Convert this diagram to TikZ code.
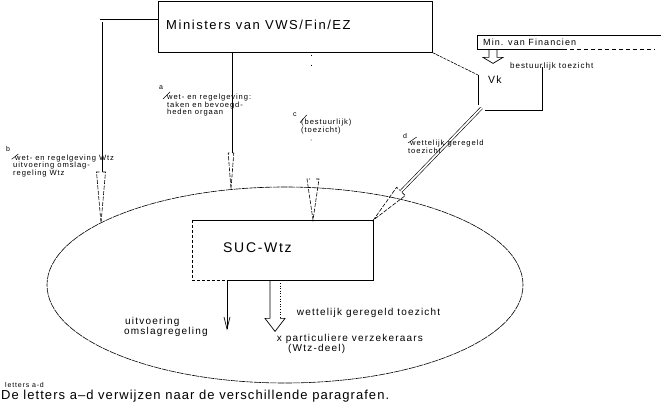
\documentclass[tikz,border=0pt]{standalone}
\usepackage{fontspec}
\setmainfont{Liberation Sans}
\newfontfamily\lsf[LetterSpace=12]{Liberation Sans}
\newfontfamily\capf[LetterSpace=8]{Liberation Sans}
\usetikzlibrary{shapes.geometric,calc,arrows.meta}
\tikzset{
  ln/.style={line width=0.7pt},
  finedash/.style={line width=0.6pt, dash pattern=on 3pt off 1pt},
  dotln/.style={line width=0.7pt, dash pattern=on 1pt off 9pt},
  dbl/.style={draw, line width=0.6pt, double=white, double distance=1.8pt},
  headst/.style={draw, line width=0.6pt, dash pattern=on 4pt off 1.5pt},
  txt/.style={inner sep=0pt, anchor=base west, font=\lsf\fontsize{#1}{#1}\selectfont},
  txt/.default=10,
  boxnode/.style={inner sep=0pt, anchor=north west, rectangle},
  ellst/.style={ellipse, draw, line width=0.6pt, dash pattern=on 7pt off 0.8pt, inner sep=0pt},
  slashln/.style={line width=0.5pt}
}
\newcommand\hhead[4]{%
  \draw[headst] ($(#1)!#4!90:(#2)$) -- ($(#1)!#3!90:(#2)$) -- (#2) -- ($(#1)!#3!-90:(#2)$) -- ($(#1)!#4!-90:(#2)$);}
\begin{document}
\begin{tikzpicture}[x=1pt,y=-1pt]
\clip (0,0) rectangle (661,411);
% ellipse
\node[ellst, minimum width=476pt, minimum height=196pt] (ell) at (285,285) {};
% Ministers box
\node[boxnode, draw, ln, minimum width=274pt, minimum height=51pt] (min) at (158,1) {};
\node[txt=13] (mint) at (166,30) {Ministers van VWS/Fin/EZ};
% Min. van Financien
\node[boxnode, minimum width=190pt, minimum height=14pt] (fin) at (477,35) {};
\draw[ln] (fin.north east) -- (fin.north west) -- (fin.south west) -- ($(fin.south west)+(86,0)$);
\draw[line width=0.6pt, dash pattern=on 4pt off 3pt] ($(fin.south west)+(86,0)$) -- ($(fin.south west)+(178,0)$);
\node[txt=9] (fint) at (483,45.7) {Min. van Financien};
% Vk
\node[txt=10.5] (vk) at (488,83.3) {Vk};
\coordinate (vkl) at (478,75);
\coordinate (vkc) at (481.5,108);
\draw[finedash] (min.south east) -- (vkl);
\draw[ln] (vkl) -- (478,105.5);
\draw[ln] (485,110) -- (542,110) -- (542,67);
% bestuurlijk toezicht arrow
\coordinate (fa) at ($(fin.south west)+(12,0)$);
\draw[ln] (fa) -- ++(0,8) -- ++(-6,0) -- ++(10,6) -- ++(10,-6) -- ++(-6,0) -- ++(0,-8);
\node[txt=8] (bt) at (510,69) {bestuurlijk toezicht};
% SUC-Wtz box
\node[boxnode, minimum width=181pt, minimum height=60pt] (suc) at (192,220) {};
\coordinate (sb) at ($(suc.south west)+(35,0)$);
\draw[ln] (sb) -- (suc.south east) -- (suc.north east) -- (suc.north west);
\draw[line width=0.6pt, dash pattern=on 3pt off 2pt] (suc.north west) -- (suc.south west) -- (sb);
\node[txt=14] (suct) at (223,252.3) {SUC-Wtz};
% arrow b
\coordinate (bs) at ($(min.north west)+(0,20)$);
\coordinate (bc) at (101,21);
\coordinate (bh) at (101,172);
\coordinate (btip) at (101,223);
\draw[dbl] (bs) -- (bc) -- (bh);
\hhead{bh}{btip}{4.5pt}{1.6pt}
% arrow a
\coordinate (as) at ($(min.south west)+(73,0)$);
\coordinate (ah) at (231,153);
\coordinate (atip) at (231,189);
\draw[dbl] (as) -- (ah);
\hhead{ah}{atip}{2.8pt}{1.6pt}
% arrow c
\coordinate (cs) at ($(min.south west)+(153,2)$);
\coordinate (ch) at (313,179);
\coordinate (ctip) at ($(suc.north west)+(121,0)$);
\draw[dotln] (cs) -- ++(0,20);
\fill (311,140) circle (0.5pt);
\hhead{ch}{ctip}{6pt}{3pt}
% arrow d
\coordinate (dh) at ($(vkc)!0.745!(suc.north east)$);
\draw[dbl] (vkc) -- (dh);
\hhead{dh}{suc.north east}{6pt}{1.6pt}
% arrows below SUC
\coordinate (ut) at ($(sb)+(0,50)$);
\draw[ln, -{Straight Barb[length=12pt,width=6pt]}] (sb) -- (ut);
\coordinate (hl) at ($(suc.south west)+(78,0)$);
\draw[ln] (hl) -- ++(0,38) -- ++(-5,0) -- ++(10,13) -- ++(10,-13) -- ++(-5,0);
\draw[line width=0.6pt, dotted] ($(hl)+(10,0)$) -- ++(0,38);
% labels a
\node[txt=7] (la) at (159,90) {a};
\draw[slashln] (163,99) -- (170,92);
\node[txt=7.6] (la1) at (167,100) {wet- en regelgeving:};
\node[txt=7.6] (la2) at (167,107.5) {taken en bevoegd-};
\node[txt=7.6] (la3) at (167,115) {heden orgaan};
% labels b
\node[txt=7] (lb) at (6,152) {b};
\draw[slashln] (11.7,159.3) -- (18.3,154);
\node[txt=7.6] (lb1) at (15,160.5) {wet- en regelgeving Wtz};
\node[txt=7.6] (lb2) at (13,168) {uitvoering omslag-};
\node[txt=7.6] (lb3) at (13,175.5) {regeling Wtz};
% labels c
\node[txt=7] (lc) at (293,117) {c};
\draw[slashln] (300,122.7) -- (306.7,115);
\node[txt=7.6] (lc1) at (301,125) {(bestuurlijk)};
\node[txt=7.6] (lc2) at (301,133) {(toezicht)};
% labels d
\node[txt=7] (ld) at (403,139) {d};
\draw[slashln] (408,143) -- (416.7,137);
\node[txt=7.6] (ld1) at (410,146) {wettelijk geregeld};
\node[txt=7.6] (ld2) at (408,153.5) {toezicht};
% lower labels
\node[txt=10] (wg) at (296.7,315.7) {wettelijk geregeld toezicht};
\node[txt=10] (uo1) at (125,325) {uitvoering};
\node[txt=10] (uo2) at (124,335) {omslagregeling};
\node[txt=10] (xp1) at (276.7,341.7) {x particuliere verzekeraars};
\node[txt=10] (xp2) at (288,351.7) {(Wtz-deel)};
% bottom
\node[txt=7] (lad) at (5,387) {letters a-d};
\node[inner sep=0pt, anchor=base west, font=\capf\fontsize{13}{13}\selectfont] (cap) at (1,399.3) {De letters a–d verwijzen naar de verschillende paragrafen.};
\end{tikzpicture}
\end{document}
